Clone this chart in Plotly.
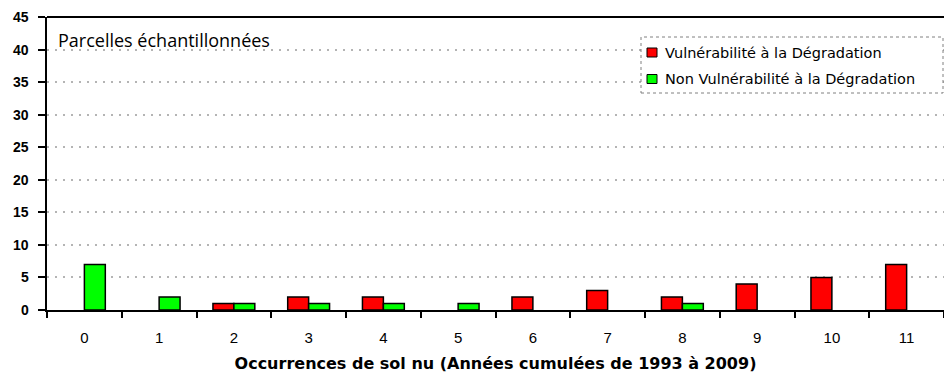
import plotly.graph_objects as go

# Occurrences of bare soil (cumulative years, 1993-2009)
categories = [str(i) for i in range(12)]
vulnerable = [0, 0, 1, 2, 2, 0, 2, 3, 2, 4, 5, 7]
non_vulnerable = [7, 2, 1, 1, 1, 1, 0, 0, 1, 0, 0, 0]
y_ticks = list(range(0, 50, 5))

series = [
    ("Vulnérabilité à la Dégradation", vulnerable, "#ff0000"),
    ("Non Vulnérabilité à la Dégradation", non_vulnerable, "#00ff00"),
]

# plot area in pixels, used to place the hand-drawn legend and y labels
W, H = 944, 381
L, R, T, B = 47, 0, 17, 71
PW, PH = W - L - R, H - T - B


def px_x(px):
    return (px - L) / PW


def px_y(py):
    return (H - B - py) / PH


fig = go.Figure()
for name, values, color in series:
    # empty counts are left blank so no outline is drawn for them
    fig.add_trace(go.Bar(
        x=categories, y=[v if v else None for v in values], name=name,
        marker=dict(color=color, line=dict(color="#000000", width=1.5)),
        showlegend=False,
    ))

shapes = [
    # frame top edge
    dict(type="line", xref="paper", yref="paper", x0=0, x1=1, y0=1, y1=1,
         line=dict(color="#000000", width=2)),
    # dotted legend frame
    dict(type="rect", xref="paper", yref="paper",
         x0=px_x(641), x1=px_x(943), y0=px_y(93), y1=px_y(37),
         line=dict(color="#808080", width=1, dash="dot"), fillcolor="white", layer="above"),
]
annotations = [
    dict(text="Parcelles échantillonnées", xref="paper", yref="paper",
         x=px_x(56), y=px_y(40), xanchor="left", yanchor="middle", showarrow=False,
         font=dict(family="Open Sans, Liberation Sans, sans-serif", size=18, color="#000000")),
]

# y tick labels, set a little further from the axis than the default
for v in y_ticks:
    annotations.append(dict(text=str(v), xref="paper", yref="y", x=px_x(31), y=v,
                            xanchor="right", yanchor="middle", showarrow=False,
                            font=dict(family="Liberation Sans, Arial, sans-serif", size=14,
                                      color="#000000", weight="bold")))

legend_rows = [52.5, 79]
for (name, _, color), cy in zip(series, legend_rows):
    shapes.append(dict(type="rect", xref="paper", yref="paper",
                       x0=px_x(647), x1=px_x(657), y0=px_y(cy + 4.5), y1=px_y(cy - 4.5),
                       line=dict(color="#000000", width=1), fillcolor=color, layer="above"))
    annotations.append(dict(text=name, xref="paper", yref="paper",
                            x=px_x(663), y=px_y(cy), xanchor="left", yanchor="middle",
                            showarrow=False,
                            font=dict(family="DejaVu Sans, Tahoma, sans-serif", size=14.5,
                                      color="#000000")))

fig.update_layout(
    width=W, height=H,
    margin=dict(l=L, r=R, t=T, b=B),
    paper_bgcolor="white", plot_bgcolor="white",
    barmode="group", bargap=0.44, bargroupgap=0,
    showlegend=False,
    xaxis=dict(
        type="category", tickson="boundaries", ticks="outside", ticklen=6,
        tickwidth=1.5, tickcolor="#000000",
        showline=True, linecolor="#000000", linewidth=1.5,
        showgrid=False, ticklabelstandoff=13,
        tickfont=dict(family="Liberation Sans, Arial, sans-serif", size=15, color="#000000"),
        title=dict(text="<b>Occurrences de sol nu (Années cumulées de 1993 à 2009)</b>",
                   font=dict(family="DejaVu Sans, Verdana, sans-serif", size=16, color="#000000"),
                   standoff=13),
    ),
    yaxis=dict(
        range=[0, 45], tickvals=y_ticks, ticks="outside", ticklen=7,
        tickwidth=1.5, tickcolor="#000000",
        showline=True, linecolor="#000000", linewidth=2,
        showgrid=True, gridcolor="#b4b4b4", griddash="2px,6px", gridwidth=1.5,
        zeroline=False, automargin=False, showticklabels=False,
    ),
    shapes=shapes,
    annotations=annotations,
)

fig.write_html("out.html")
